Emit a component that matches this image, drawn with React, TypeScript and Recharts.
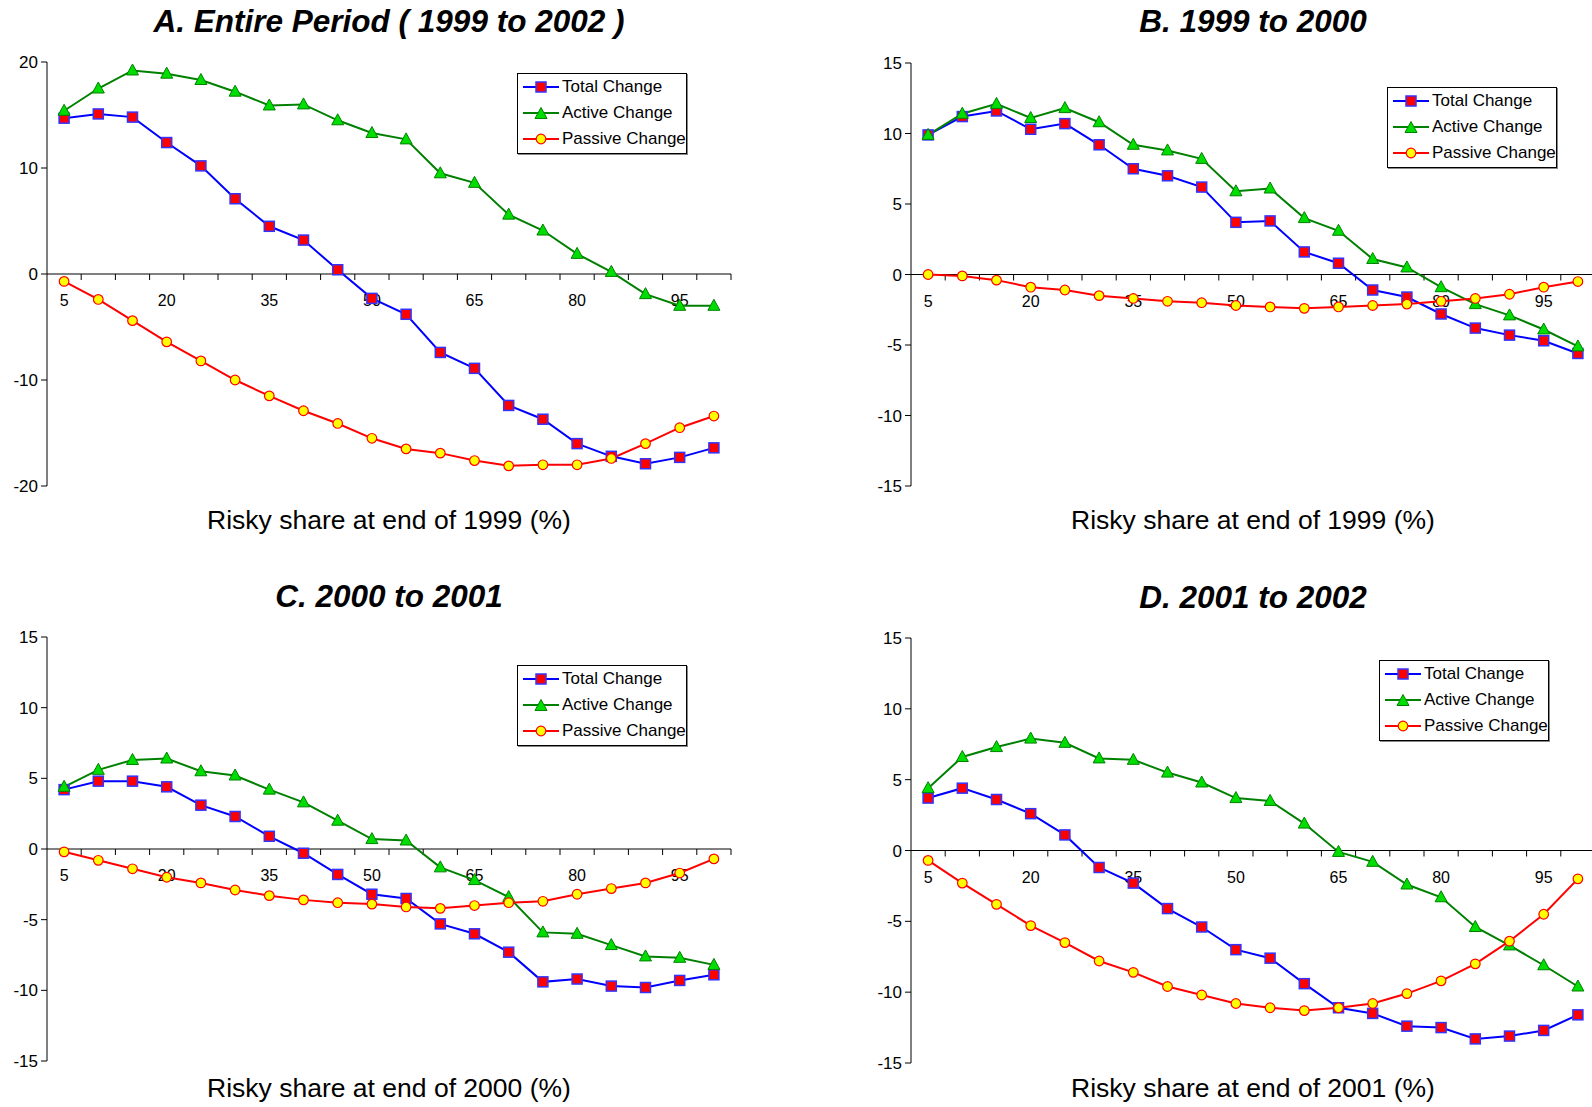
import React from 'react'
import { LineChart, Line, XAxis, YAxis, ReferenceLine, Legend } from 'recharts'

// risky share buckets (%), one point per bucket
const CATEGORIES = [5, 10, 15, 20, 25, 30, 35, 40, 45, 50, 55, 60, 65, 70, 75, 80, 85, 90, 95, 100]
const X_TICK_LABELS = ['5', '20', '35', '50', '65', '80', '95']

const SERIES_NAMES = ['Total Change', 'Active Change', 'Passive Change']

// A. Entire period (1999 to 2002)
const totalA = [14.7, 15.1, 14.8, 12.4, 10.2, 7.1, 4.5, 3.2, 0.4, -2.3, -3.8, -7.4, -8.9, -12.4, -13.7, -16.0, -17.2, -17.9, -17.3, -16.4]
const activeA = [15.4, 17.5, 19.2, 18.9, 18.3, 17.2, 15.9, 16.0, 14.5, 13.3, 12.7, 9.5, 8.6, 5.6, 4.1, 1.9, 0.2, -1.9, -3.0, -3.0]
const passiveA = [-0.7, -2.4, -4.4, -6.4, -8.2, -10.0, -11.5, -12.9, -14.1, -15.5, -16.5, -16.9, -17.6, -18.1, -18.0, -18.0, -17.4, -16.0, -14.5, -13.4]

// B. 1999 to 2000
const totalB = [9.9, 11.2, 11.6, 10.3, 10.7, 9.2, 7.5, 7.0, 6.2, 3.7, 3.8, 1.6, 0.8, -1.1, -1.6, -2.8, -3.8, -4.3, -4.7, -5.6]
const activeB = [9.9, 11.4, 12.1, 11.1, 11.8, 10.8, 9.2, 8.8, 8.2, 5.9, 6.1, 4.0, 3.1, 1.1, 0.5, -0.9, -2.1, -2.9, -3.9, -5.1]
const passiveB = [0.0, -0.1, -0.4, -0.9, -1.1, -1.5, -1.7, -1.9, -2.0, -2.2, -2.3, -2.4, -2.3, -2.2, -2.1, -1.9, -1.7, -1.4, -0.9, -0.5]

// C. 2000 to 2001
const totalC = [4.2, 4.8, 4.8, 4.4, 3.1, 2.3, 0.9, -0.3, -1.8, -3.2, -3.5, -5.3, -6.0, -7.3, -9.4, -9.2, -9.7, -9.8, -9.3, -8.9]
const activeC = [4.4, 5.6, 6.3, 6.4, 5.5, 5.2, 4.2, 3.3, 2.0, 0.7, 0.6, -1.3, -2.2, -3.4, -5.9, -6.0, -6.8, -7.6, -7.7, -8.2]
const passiveC = [-0.2, -0.8, -1.4, -2.0, -2.4, -2.9, -3.3, -3.6, -3.8, -3.9, -4.1, -4.2, -4.0, -3.8, -3.7, -3.2, -2.8, -2.4, -1.7, -0.7]

// D. 2001 to 2002
const totalD = [3.7, 4.4, 3.6, 2.6, 1.1, -1.2, -2.3, -4.1, -5.4, -7.0, -7.6, -9.4, -11.1, -11.5, -12.4, -12.5, -13.3, -13.1, -12.7, -11.6]
const activeD = [4.4, 6.6, 7.3, 7.9, 7.6, 6.5, 6.4, 5.5, 4.8, 3.7, 3.5, 1.9, -0.1, -0.8, -2.4, -3.3, -5.4, -6.7, -8.1, -9.6]
const passiveD = [-0.7, -2.3, -3.8, -5.3, -6.5, -7.8, -8.6, -9.6, -10.2, -10.8, -11.1, -11.3, -11.1, -10.8, -10.1, -9.2, -8.0, -6.4, -4.5, -2.0]

const Y_TICKS_20 = [-20, -10, 0, 10, 20]
const Y_TICKS_15 = [-15, -10, -5, 0, 5, 10, 15]

const FONT = '"Liberation Sans", Arial, sans-serif'
const Y_AXIS_W = 47
const PAD = 12

const BLUE = '#0000FF'
const GREEN = '#008000'
const RED = '#FF0000'

const SquareDot = (props: any) => {
  const { cx, cy, index } = props
  if (cx == null || cy == null) return null
  return <rect key={`sq-${index}`} x={cx - 5} y={cy - 5} width={10} height={10} fill="#FF0000" stroke="#3333FF" strokeWidth={1.5} />
}

const TriangleDot = (props: any) => {
  const { cx, cy, index } = props
  if (cx == null || cy == null) return null
  return (
    <polygon
      key={`tr-${index}`}
      points={`${cx},${cy - 6.5} ${cx - 6},${cy + 4.5} ${cx + 6},${cy + 4.5}`}
      fill="#00DD00"
      stroke="#008000"
      strokeWidth={1}
    />
  )
}

const CircleDot = (props: any) => {
  const { cx, cy, index } = props
  if (cx == null || cy == null) return null
  return <circle key={`ci-${index}`} cx={cx} cy={cy} r={4.8} fill="#FFFF00" stroke="#FF0000" strokeWidth={1.2} />
}

const legendIcon = (i: number) => {
  const colors = [BLUE, GREEN, RED]
  return (
    <svg width={36} height={14} style={{ display: 'block' }}>
      <line x1={0} y1={7} x2={36} y2={7} stroke={colors[i]} strokeWidth={2} />
      {i === 0 && <SquareDot cx={18} cy={7} index={0} />}
      {i === 1 && <TriangleDot cx={18} cy={8} index={0} />}
      {i === 2 && <CircleDot cx={18} cy={7} index={0} />}
    </svg>
  )
}

const renderLegend = (props: any) => {
  const items = [...(props.payload || [])].sort(
    (a: any, b: any) => SERIES_NAMES.indexOf(a.value) - SERIES_NAMES.indexOf(b.value)
  )
  return (
    <div
      style={{
        border: '1px solid #000',
        boxShadow: '1px 1px 0 #888',
        background: '#fff',
        width: 168,
        padding: '0 0 1px 0',
        fontFamily: FONT,
        fontSize: 17,
        color: '#000',
      }}
    >
      {items.map((entry: any) => (
        <div key={entry.value} style={{ display: 'flex', alignItems: 'center', height: 26, paddingLeft: 5 }}>
          {legendIcon(SERIES_NAMES.indexOf(entry.value))}
          <span style={{ marginLeft: 3, whiteSpace: 'nowrap' }}>{entry.value}</span>
        </div>
      ))}
    </div>
  )
}

// tick marks and labels drawn along the zero line, Excel style
const renderZeroAxis = (props: any) => {
  const vb = props.viewBox || {}
  const x0 = vb.x
  const y0 = vb.y
  const band = vb.width / CATEGORIES.length
  const out: any[] = []
  CATEGORIES.forEach((c, i) => {
    out.push(<line key={`t${i}`} x1={x0 + (i + 1) * band} y1={y0} x2={x0 + (i + 1) * band} y2={y0 + 6} stroke="#000" />)
    if (X_TICK_LABELS.includes(String(c))) {
      out.push(
        <text key={`l${i}`} x={x0 + (i + 0.5) * band} y={y0 + 32} textAnchor="middle" fontSize={16} fontFamily={FONT} fill="#000">
          {c}
        </text>
      )
    }
  })
  return <g>{out}</g>
}

interface PanelProps {
  title: string
  xLabel: string
  total: number[]
  active: number[]
  passive: number[]
  yMin: number
  yMax: number
  yTicks: number[]
  plotLeft: number
  plotTop: number
  plotWidth: number
  plotHeight: number
  titleY: number
  xLabelY: number
  legendLeft: number
  legendTop: number
}

const Panel = (p: PanelProps) => {
  const data = CATEGORIES.map((c, i) => ({
    cat: c,
    total: p.total[i],
    active: p.active[i],
    passive: p.passive[i],
  }))
  const chartLeft = p.plotLeft - Y_AXIS_W
  const chartTop = p.plotTop - PAD
  const width = p.plotWidth + Y_AXIS_W + PAD
  const height = p.plotHeight + 2 * PAD
  return (
    <>
      <div
        style={{
          position: 'absolute',
          left: p.plotLeft - 100,
          width: p.plotWidth + 200,
          top: p.titleY - 19,
          lineHeight: '38px',
          textAlign: 'center',
          fontFamily: FONT,
          fontWeight: 'bold',
          fontStyle: 'italic',
          fontSize: 31.5,
        }}
      >
        {p.title}
      </div>
      <div style={{ position: 'absolute', left: chartLeft, top: chartTop }}>
        <LineChart width={width} height={height} data={data} margin={{ top: PAD, right: PAD, bottom: PAD, left: 0 }}>
          <XAxis dataKey="cat" scale="band" height={0} tick={false} tickLine={false} axisLine={{ stroke: '#808080' }} />
          <XAxis dataKey="cat" scale="band" xAxisId="top" orientation="top" height={0} tick={false} tickLine={false} axisLine={{ stroke: '#808080' }} />
          <YAxis
            width={Y_AXIS_W}
            domain={[p.yMin, p.yMax]}
            ticks={p.yTicks}
            interval={0}
            allowDataOverflow
            tick={{ fontSize: 17, fill: '#000', fontFamily: FONT }}
            tickLine={{ stroke: '#000' }}
            axisLine={{ stroke: '#000' }}
            tickSize={6}
            tickMargin={3}
          />
          <YAxis
            yAxisId="right"
            orientation="right"
            width={0}
            domain={[p.yMin, p.yMax]}
            tick={false}
            tickLine={false}
            axisLine={{ stroke: '#808080' }}
          />
          <ReferenceLine y={0} stroke="#000" strokeWidth={1} label={renderZeroAxis} />
          <Legend
            layout="vertical"
            align="center"
            verticalAlign="middle"
            content={renderLegend}
            wrapperStyle={{ left: p.legendLeft - chartLeft, top: p.legendTop - chartTop, width: 'auto' }}
          />
          <Line
            name="Total Change"
            dataKey="total"
            stroke={BLUE}
            strokeWidth={2}
            dot={SquareDot}
            isAnimationActive={false}
          />
          <Line
            name="Active Change"
            dataKey="active"
            stroke={GREEN}
            strokeWidth={2}
            dot={TriangleDot}
            isAnimationActive={false}
          />
          <Line
            name="Passive Change"
            dataKey="passive"
            stroke={RED}
            strokeWidth={2}
            dot={CircleDot}
            isAnimationActive={false}
          />
        </LineChart>
      </div>
      <div
        style={{
          position: 'absolute',
          left: p.plotLeft - 100,
          width: p.plotWidth + 200,
          top: p.xLabelY - 15,
          lineHeight: '30px',
          textAlign: 'center',
          fontFamily: FONT,
          fontSize: 26.5,
        }}
      >
        {p.xLabel}
      </div>
    </>
  )
}

export default function App() {
  return (
    <div style={{ position: 'absolute', left: 0, top: 0, width: 1592, height: 1107, overflow: 'hidden', background: '#fff' }}>
      <Panel
        title="A. Entire Period ( 1999 to 2002 )"
        xLabel="Risky share at end of 1999 (%)"
        total={totalA}
        active={activeA}
        passive={passiveA}
        yMin={-20}
        yMax={20}
        yTicks={Y_TICKS_20}
        plotLeft={47}
        plotTop={62}
        plotWidth={684}
        plotHeight={424}
        titleY={21}
        xLabelY={520}
        legendLeft={517}
        legendTop={73}
      />
      <Panel
        title="B. 1999 to 2000"
        xLabel="Risky share at end of 1999 (%)"
        total={totalB}
        active={activeB}
        passive={passiveB}
        yMin={-15}
        yMax={15}
        yTicks={Y_TICKS_15}
        plotLeft={911}
        plotTop={63}
        plotWidth={684}
        plotHeight={423}
        titleY={21}
        xLabelY={520}
        legendLeft={1387}
        legendTop={87}
      />
      <Panel
        title="C. 2000 to 2001"
        xLabel="Risky share at end of 2000 (%)"
        total={totalC}
        active={activeC}
        passive={passiveC}
        yMin={-15}
        yMax={15}
        yTicks={Y_TICKS_15}
        plotLeft={47}
        plotTop={637}
        plotWidth={684}
        plotHeight={424}
        titleY={596}
        xLabelY={1088}
        legendLeft={517}
        legendTop={665}
      />
      <Panel
        title="D. 2001 to 2002"
        xLabel="Risky share at end of 2001 (%)"
        total={totalD}
        active={activeD}
        passive={passiveD}
        yMin={-15}
        yMax={15}
        yTicks={Y_TICKS_15}
        plotLeft={911}
        plotTop={638}
        plotWidth={684}
        plotHeight={425}
        titleY={597}
        xLabelY={1088}
        legendLeft={1379}
        legendTop={660}
      />
    </div>
  )
}
